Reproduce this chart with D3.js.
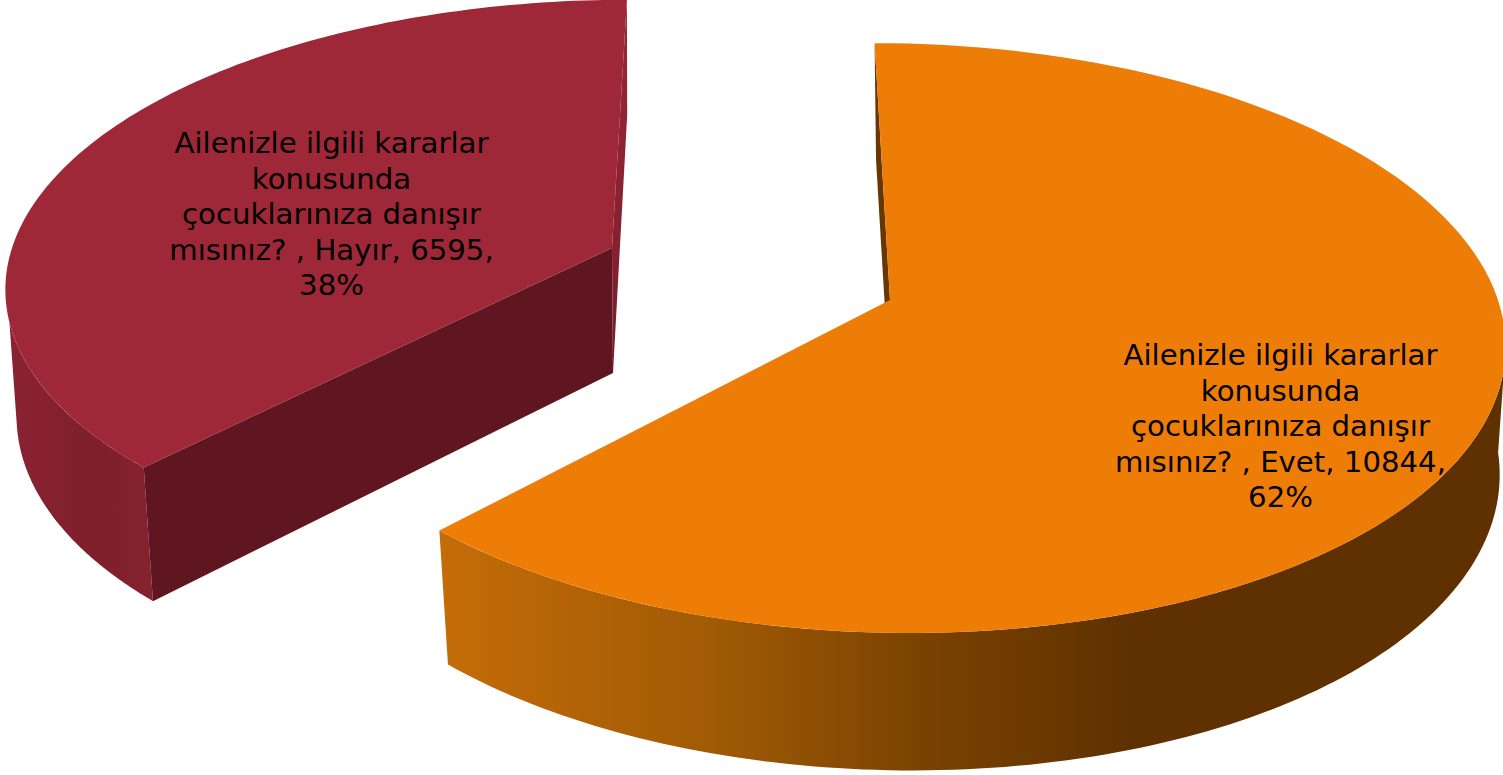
<!DOCTYPE html>
<html><head><meta charset="utf-8">
<style>html,body{margin:0;padding:0;background:#fff;overflow:hidden}svg{display:block}</style>
<script src="https://cdn.jsdelivr.net/npm/d3@7"></script></head>
<body><svg id="c" width="1503" height="775"></svg>
<script>
const categories = ["Evet", "Hayır"];
const values = [10844, 6595];
const percents = ["62%", "38%"];
const question = "Ailenizle ilgili kararlar konusunda çocuklarınıza danışır mısınız?";
const topColors = ["#ee7d08", "#9e2738"];
const sideColors = ["#663700", "#5f1620"];

const W = 1503, H = 775;
const svg = d3.select("#c");
const defs = svg.append("defs");
const arcs = d3.pie().sort(null).value(d => d)(values);
const deg = Math.PI / 180;

// Perspective placement of each exploded wedge: top disc and bottom disc
const layout = [
  { top: {ax:890, ay:300, rx:608, ry:290, q:.129, s:.06},
    bot: {ax:892, ay:426, rx:600, ry:300, q:.129, s:.06},
    topEdge: 103*deg, botEdge: 95*deg, tx: 1280.5, ty: 365 },
  { top: {ax:612, ay:248, rx:600, ry:278, q:.12, s:-.06},
    bot: {ax:613, ay:373, rx:590, ry:289, q:.12, s:-.055},
    topEdge: 255*deg, botEdge: 260*deg, tx: 331.5, ty: 153 }
];
const questionLines = ["Ailenizle ilgili kararlar","konusunda","çocuklarınıza danışır"];
const labelLines = (i) => questionLines.concat(
  `mısınız? , ${categories[i]}, ${values[i]},`, percents[i]);

function project(p, a) {
  const w = 1 + p.q * Math.cos(a);
  const dx = p.rx * Math.sin(a) / w, dy = -p.ry * Math.cos(a) / w;
  return [p.ax + dx + p.s * dy, p.ay + dy];
}
const line = d3.line();
const rim = (p, a0, a1) => d3.range(0, 121).map(i => project(p, a0 + (a1 - a0) * i / 120));

// gradients for the curved side walls
function grad(id, x1, x2, y1, y2, stops) {
  const g = defs.append("linearGradient").attr("id",id).attr("gradientUnits","userSpaceOnUse")
    .attr("x1",x1).attr("x2",x2).attr("y1",y1).attr("y2",y2);
  stops.forEach(s => g.append("stop").attr("offset",s[0]).attr("stop-color",s[1]));
}
grad("wall0",441,1130,0,0,[[0,"#c46c08"],[.4,"#a05a05"],[.7,"#7a4202"],[1,"#5f3100"]]);
grad("wall1",10,155,0,0,[[0,"#8a2232"],[.55,"#7f1f2c"],[1,"#85222f"]]);
grad("sliver1",0,0,0,373,[[0,"#9b2637"],[.5,"#8a2232"],[1,"#7a1c29"]]);

arcs.forEach((d, i) => {
  const L = layout[i], g = svg.append("g");
  const a0 = d.startAngle, a1 = d.endAngle;
  if (i === 0) {
    g.append("path").attr("fill", sideColors[0]).attr("d", line([
      project(L.top,a0),[L.top.ax,L.top.ay],[L.bot.ax,L.bot.ay],project(L.bot,a0)])+"Z");
    g.append("path").attr("fill","url(#wall0)").attr("d", line(
      rim(L.top,L.topEdge,a1).concat(rim(L.bot,a1,L.botEdge)))+"Z");
  } else {
    g.append("path").attr("fill","url(#wall1)").attr("d", line(
      rim(L.top,a0,L.topEdge).concat(rim(L.bot,L.botEdge,a0)))+"Z");
    g.append("path").attr("fill", sideColors[1]).attr("d", line([
      [L.top.ax,L.top.ay],project(L.top,a0),project(L.bot,a0),[L.bot.ax,L.bot.ay]])+"Z");
    g.append("path").attr("fill","url(#sliver1)").attr("d", line([
      [L.top.ax,L.top.ay],project(L.top,a1),project(L.bot,a1),[L.bot.ax,L.bot.ay]])+"Z");
  }
  g.append("path").attr("fill", topColors[i]).attr("d", line(
    [[L.top.ax,L.top.ay]].concat(rim(L.top,a0,a1)))+"Z");
});

arcs.forEach((d, i) => {
  const L = layout[i];
  const t = svg.append("text").attr("text-anchor","middle")
    .attr("font-family","'DejaVu Sans',Verdana,sans-serif").attr("font-size",29.2).attr("fill","#000");
  labelLines(i).forEach((s, k) => t.append("tspan").attr("x",L.tx).attr("y",L.ty + k*35.5).text(s));
});
</script></body></html>
